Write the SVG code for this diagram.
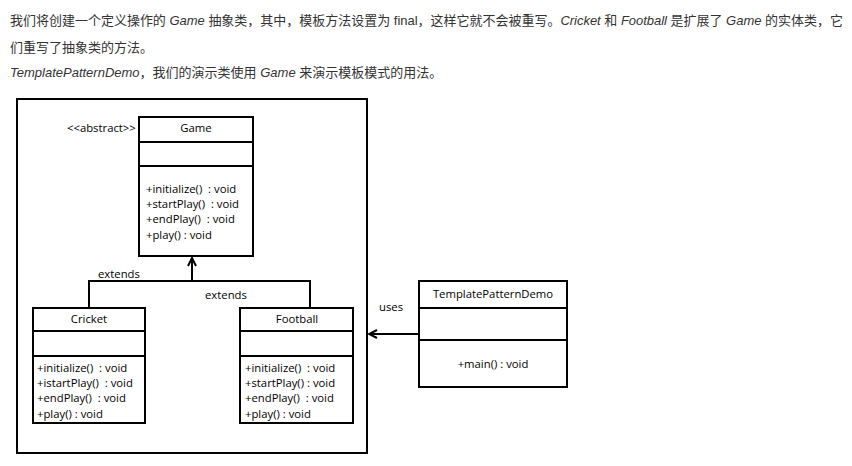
<svg xmlns="http://www.w3.org/2000/svg" width="852" height="466" viewBox="0 0 852 466">
  <style>
    .intro { font-family: "Liberation Sans", "Noto Sans CJK SC", sans-serif; font-size: 13px; fill: #333333; }
    .intro .en { font-style: italic; }
    .box { fill: #ffffff; stroke: #000000; stroke-width: 2; }
    .sep { stroke: #000000; stroke-width: 2; }
    .uml { font-family: "Open Sans", "Liberation Sans", sans-serif; font-size: 11.3px; fill: #000000; white-space: pre; }
    .title { text-anchor: middle; }
    .link { fill: none; stroke: #000000; stroke-width: 2; }
  </style>
  <defs>
    <marker id="head" viewBox="0 0 10 10" refX="9" refY="5" markerWidth="5" markerHeight="5" orient="auto-start-reverse" markerUnits="strokeWidth">
      <path d="M1,1 L9,5 L1,9" fill="none" stroke="#000000" stroke-width="2"/>
    </marker>
  </defs>
  <rect width="852" height="466" fill="#ffffff"/>

  <!-- introductory paragraph -->
  <text class="intro" x="10" y="25" textLength="833" lengthAdjust="spacing">我们将创建一个定义操作的 <tspan class="en">Game</tspan> 抽象类，其中，模板方法设置为 final，这样它就不会被重写。<tspan class="en">Cricket</tspan> 和 <tspan class="en">Football</tspan> 是扩展了 <tspan class="en">Game</tspan> 的实体类，它</text>
  <text class="intro" x="10" y="52">们重写了抽象类的方法。</text>
  <text class="intro" x="10" y="77"><tspan class="en">TemplatePatternDemo</tspan>，我们的演示类使用 <tspan class="en">Game</tspan> 来演示模板模式的用法。</text>

  <!-- package frame -->
  <rect x="17" y="99" width="350" height="354" fill="none" stroke="#000000" stroke-width="2"/>

  <!-- connectors -->
  <g id="connectors">
    <path class="link" d="M89,308 V281 H310 V308"/>
    <path class="link" d="M192,281 V258" marker-end="url(#head)"/>
    <path class="link" d="M419,334 H369" marker-end="url(#head)"/>
    <text class="uml" x="98" y="278">extends</text>
    <text class="uml" x="205" y="299">extends</text>
    <text class="uml" x="379" y="311">uses</text>
  </g>

  <g id="game">
    <text class="uml" x="67" y="132">&lt;&lt;abstract&gt;&gt;</text>
    <rect class="box" x="139" y="117" width="114" height="139"/>
    <line class="sep" x1="139" y1="142" x2="253" y2="142"/>
    <line class="sep" x1="139" y1="166" x2="253" y2="166"/>
    <text class="uml title" x="196" y="132">Game</text>
    <text class="uml" x="146" y="193">+initialize()  : void</text>
    <text class="uml" x="146" y="208">+startPlay()  : void</text>
    <text class="uml" x="146" y="223">+endPlay()  : void</text>
    <text class="uml" x="146" y="239">+play() : void</text>
  </g>

  <g id="cricket">
    <rect class="box" x="33" y="308" width="112" height="115"/>
    <line class="sep" x1="33" y1="331" x2="145" y2="331"/>
    <line class="sep" x1="33" y1="356" x2="145" y2="356"/>
    <text class="uml title" x="89" y="323">Cricket</text>
    <text class="uml" x="37" y="372">+initialize()  : void</text>
    <text class="uml" x="37" y="387">+istartPlay()  : void</text>
    <text class="uml" x="37" y="402">+endPlay()  : void</text>
    <text class="uml" x="37" y="418">+play() : void</text>
  </g>

  <g id="football">
    <rect class="box" x="240" y="308" width="113" height="115"/>
    <line class="sep" x1="240" y1="331" x2="353" y2="331"/>
    <line class="sep" x1="240" y1="356" x2="353" y2="356"/>
    <text class="uml title" x="297" y="323">Football</text>
    <text class="uml" x="245" y="372">+initialize()  : void</text>
    <text class="uml" x="245" y="387">+startPlay() : void</text>
    <text class="uml" x="245" y="402">+endPlay()  : void</text>
    <text class="uml" x="245" y="418">+play() : void</text>
  </g>

  <g id="templatepatterndemo">
    <rect class="box" x="419" y="281" width="148" height="106"/>
    <line class="sep" x1="419" y1="308" x2="567" y2="308"/>
    <line class="sep" x1="419" y1="340" x2="567" y2="340"/>
    <text class="uml title" x="493" y="298">TemplatePatternDemo</text>
    <text class="uml title" x="493" y="368">+main() : void</text>
  </g>
</svg>
